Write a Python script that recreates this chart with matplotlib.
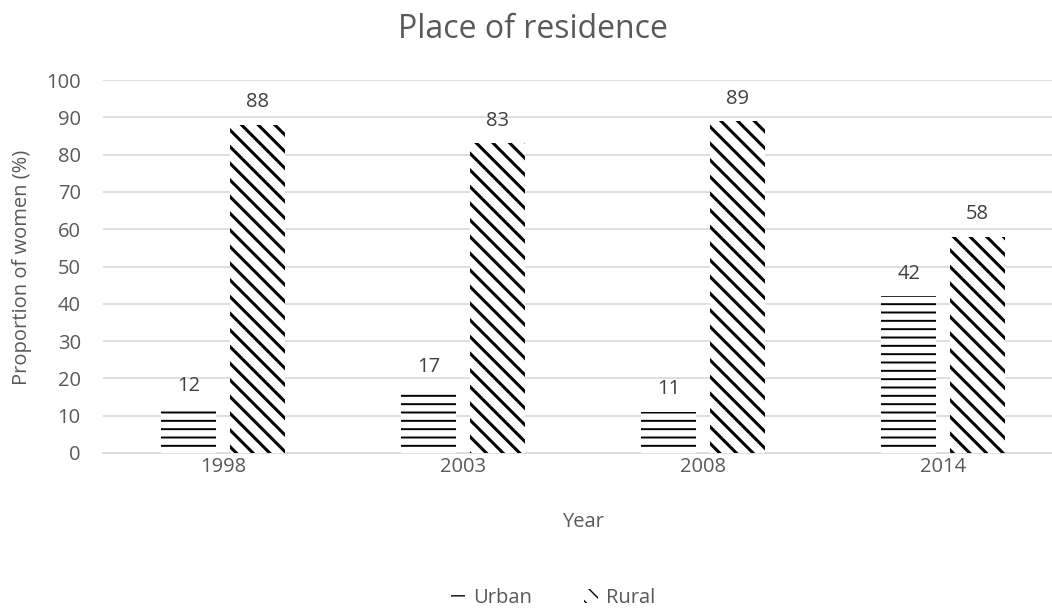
import matplotlib.pyplot as plt
import numpy as np

plt.rcParams['font.family'] = ['Open Sans', 'DejaVu Sans']

# 数据
years = ['1998', '2003', '2008', '2014']
urban = [12, 17, 11, 42]
rural = [88, 83, 89, 58]

grey = '#595959'
x = np.arange(len(years))
w = 0.228
fs = 14.5

fig = plt.figure(figsize=(10.52, 6.09), dpi=100)
# 绘图区右侧一直延伸到图片边缘
ax = fig.add_axes([103 / 1052, 156 / 609, 960 / 1052, 373 / 609])

b1 = ax.bar(x - 0.143, urban, w, color='white', edgecolor='black', linewidth=0,
            hatch='--', label='Urban', zorder=3)
b2 = ax.bar(x + 0.143, rural, w, color='white', edgecolor='black', linewidth=0,
            hatch='\\\\', label='Rural', zorder=3)
for p in b1:
    if hasattr(p, 'set_hatch_linewidth'):
        p.set_hatch_linewidth(1.4)
for p in b2:
    if hasattr(p, 'set_hatch_linewidth'):
        p.set_hatch_linewidth(2.2)

# 数值标签
for bars, vals in [(b1, urban), (b2, rural)]:
    for p, v in zip(bars, vals):
        ax.annotate(str(v), (p.get_x() + p.get_width() / 2, v),
                    xytext=(0, 9), textcoords='offset points',
                    ha='center', va='bottom', fontsize=fs, color='#404040')

ax.set_xlim(-0.5, 3.5)
ax.set_ylim(0, 100)
ax.set_yticks(range(0, 101, 10))
ax.set_xticks(x)
ax.set_xticklabels(years)
ax.grid(axis='y', color='#d9d9d9', linewidth=1.2, zorder=0)
ax.set_axisbelow(True)
for s in ['top', 'right', 'left']:
    ax.spines[s].set_visible(False)
ax.spines['bottom'].set_color('#d9d9d9')
ax.spines['bottom'].set_linewidth(1.2)
ax.tick_params(length=0, labelsize=fs, labelcolor=grey)
ax.tick_params(axis='y', pad=16)
ax.tick_params(axis='x', pad=3)

fig.text(533 / 1052, 1 - 38 / 609, 'Place of residence', fontsize=23, color=grey,
         ha='center', va='baseline')
fig.text(583 / 1052, 1 - 522 / 609, 'Year', fontsize=fs, color=grey,
         ha='center', va='center')
fig.text(22 / 1052, 1 - 267 / 609, 'Proportion of women (%)', fontsize=fs,
         color=grey, rotation=90, ha='center', va='center')

leg = fig.legend(handles=[b1, b2], loc='center', bbox_to_anchor=(0.526, 0.018),
                 ncol=2, frameon=False, fontsize=fs, handlelength=0.7,
                 handleheight=0.7, columnspacing=2.6, handletextpad=0.4,
                 borderpad=0)
for t in leg.get_texts():
    t.set_color(grey)

fig.savefig('out.png', dpi=100)
